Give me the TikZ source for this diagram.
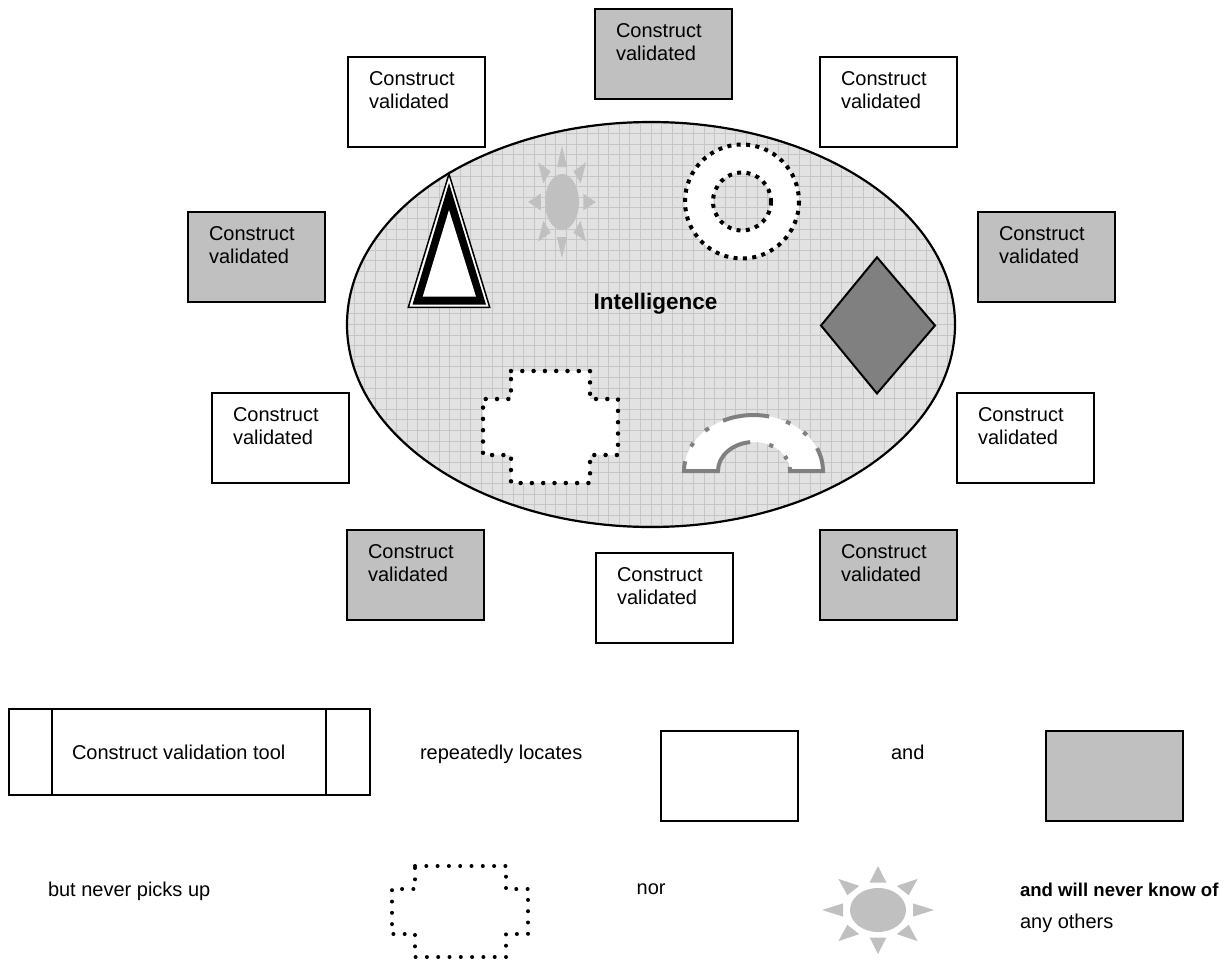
\documentclass[tikz,border=0pt]{standalone}
\usepackage{fontspec}
\setmainfont{Liberation Sans}
\usetikzlibrary{shapes.geometric}

\definecolor{ellfill}{HTML}{E2E2E2}
\definecolor{gridcol}{HTML}{C6C6C6}
\definecolor{boxgray}{HTML}{C0C0C0}
\definecolor{sungray}{HTML}{C0C0C0}
\definecolor{diamondgray}{HTML}{808080}
\definecolor{archgray}{HTML}{808080}

\tikzset{
  sun/.pic={
    \fill[sungray] (0,0) circle (1);
    \foreach \a in {0,45,...,315}
      \fill[sungray, rotate=\a] (1.25,-0.3) -- (2,0) -- (1.25,0.3) -- cycle;
  }
}

\begin{document}
\begin{tikzpicture}[x=1pt,y=-1pt,
  every node/.style={inner sep=0pt, outer sep=0pt},
  txt/.style={font=\fontsize{20}{23}\selectfont, align=left},
  cbox/.style={draw, line width=2pt, minimum width=137pt, minimum height=90pt, anchor=north west},
  roundots/.style={line width=4.5pt, line cap=round, dash pattern=on 0pt off 11.3pt},
  squaredots/.style={line width=4pt, dash pattern=on 4pt off 5.4pt},
  archline/.style={draw=archgray, line width=4pt, line join=miter},
  outerarc/.style={x radius=69.5, y radius=56},
  innerarc/.style={x radius=36, y radius=29}
]
\useasboundingbox (0,0) rectangle (1230,963);

% the central field
\node[ellipse, draw, line width=2.2pt, fill=ellfill,
      minimum width=608pt, minimum height=405pt,
      path picture={\draw[gridcol, line width=0.9pt]
        ([shift={(-4,-4)}]path picture bounding box.north west) grid[step=10.6pt]
        (path picture bounding box.south east);}] (intel) at (651,324.5) {};
\node[font=\bfseries\fontsize{22.5}{25}\selectfont] (intl) at (655.5,304) {Intelligence};

% triangle with triple outline
\filldraw[fill=white, draw=black, line width=1.5pt, line join=miter] (449,174) -- (408.3,307.3) -- (489.7,307.3) -- cycle;
\fill[black] (449,183) -- (412.5,304.5) -- (486,304.5) -- cycle;
\fill[white] (449,210) -- (422.7,296.7) -- (476,296.7) -- cycle;

% sun inside the field
\pic[xscale=17, yscale=28] at (562,202) {sun};

% dotted ring
\fill[white, even odd rule] (742,201.5) circle (57) circle (29);
\draw[squaredots] (742,201.5) circle (57);
\draw[squaredots] (742,201.5) circle (29);

% diamond
\filldraw[fill=diamondgray, line width=2pt] (877,257.3) -- (935,325.5) -- (877,393.5) -- (821,325.5) -- cycle;

% dotted cross
\filldraw[fill=white, draw=black, roundots] (511,371) -- (590,371) -- (590,399) -- (618,399) -- (618,455) -- (590,455) -- (590,483)
  -- (511,483) -- (511,455) -- (483,455) -- (483,399) -- (511,399) -- cycle;

% block arc, white body
\fill[white] (684,471) arc[start angle=180, end angle=360, outerarc]
  -- (790,471) arc[start angle=0, end angle=-180, innerarc] -- cycle;
% block arc, long-dash-dot-dot outline
\draw[archline] ([shift={(754,471)}]-96:36 and 29) arc[start angle=-96, end angle=-180, innerarc]
  -- (684,471) arc[start angle=180, end angle=190, outerarc];
\draw[archline] ([shift={(753.5,471)}]-154:69.5 and 56) arc[start angle=-154, end angle=-150, outerarc];
\draw[archline] ([shift={(753.5,471)}]-134:69.5 and 56) arc[start angle=-134, end angle=-130, outerarc];
\draw[archline] ([shift={(753.5,471)}]-116:69.5 and 56) arc[start angle=-116, end angle=-77, outerarc];
\draw[archline] ([shift={(753.5,471)}]-62:69.5 and 56) arc[start angle=-62, end angle=-58, outerarc];
\draw[archline] ([shift={(753.5,471)}]-44:69.5 and 56) arc[start angle=-44, end angle=-40, outerarc];
\draw[archline] ([shift={(753.5,471)}]-24:69.5 and 56) arc[start angle=-24, end angle=0, outerarc]
  -- (790,471) arc[start angle=0, end angle=-8, innerarc];
\draw[archline] ([shift={(754,471)}]-31:36 and 29) arc[start angle=-31, end angle=-24, innerarc];
\draw[archline] ([shift={(754,471)}]-65:36 and 29) arc[start angle=-65, end angle=-58, innerarc];

% surrounding boxes
\foreach \n/\x/\y/\f in {v1/595/9/boxgray, v2/348/57/white, v3/820/57/white,
    v4/188/212/boxgray, v5/978/212/boxgray, v6/212/393/white, v7/957/393/white,
    v8/347/530/boxgray, v9/820/530/boxgray, v10/596/553/white} {
  \node[cbox, fill=\f] (\n) at (\x,\y) {};
  \node[txt, anchor=north west] (\n t) at ([shift={(21,14.5)}]\n.north west) {Construct\\validated};
}

% legend, first row
\node[draw, line width=2pt, minimum width=361pt, minimum height=86pt, anchor=north west] (tool) at (9,709) {};
\draw[line width=2pt] ([xshift=43pt]tool.north west) -- ([xshift=43pt]tool.south west);
\draw[line width=2pt] ([xshift=-44pt]tool.north east) -- ([xshift=-44pt]tool.south east);
\node[txt, anchor=base west] (tooltxt) at (72,759) {Construct validation tool};
\node[txt, anchor=base west] (locates) at (420,759) {repeatedly locates};
\node[cbox, fill=white] (lw) at (661,731) {};
\node[txt, anchor=base west] (and1) at (891,759) {and};
\node[cbox, fill=boxgray] (lg) at (1046,731) {};

% legend, second row
\node[txt, anchor=base west] (never) at (48,896) {but never picks up};
\draw[roundots, line width=4pt] (415,866) -- (506,866) -- (506,889) -- (528,889) -- (528,934) -- (506,934) -- (506,957)
  -- (415,957) -- (415,934) -- (392,934) -- (392,889) -- (415,889) -- cycle;
\node[txt, anchor=base west] (nor) at (636.7,894) {nor};
\pic[xscale=28, yscale=22] at (878,910) {sun};
\node[font=\bfseries\fontsize{18.6}{22}\selectfont, anchor=base west] (know) at (1020,896) {and will never know of};
\node[txt, anchor=base west] (others) at (1020,928) {any others};
\end{tikzpicture}
\end{document}
